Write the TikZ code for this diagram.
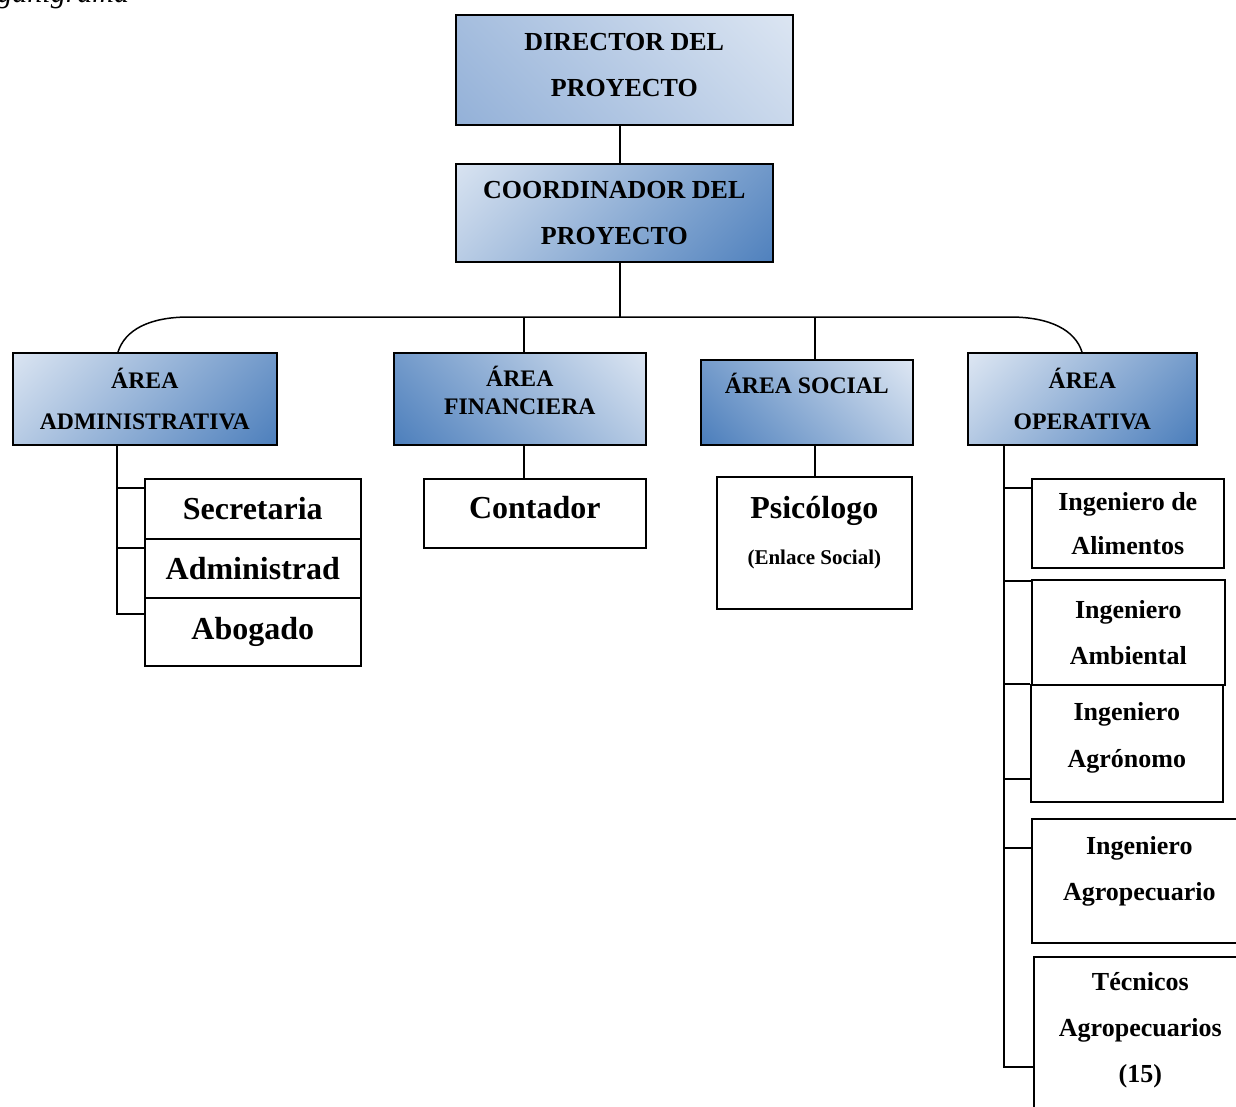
\documentclass[tikz,border=0pt]{standalone}
\usepackage{fontspec}
\setmainfont{Liberation Serif}
\usepackage{tikz}
\usetikzlibrary{positioning,calc}
\definecolor{boxLight}{RGB}{222,231,243}
\definecolor{boxMid}{RGB}{145,175,215}
\definecolor{boxDark}{RGB}{74,125,187}
\tikzstyle{orgChart} = [x = 1pt, y = -1pt]
\tikzstyle{orgLine} = [color=black, line width=1.5pt]
\tikzstyle{orgBox} = [draw=black, line width=1.6pt, anchor=north west, align=center, inner sep=0pt]
\newcommand{\diagShade}[3]{\shade [top color=#1, bottom color=#2, shading angle=#3] let \p1=(path picture bounding box.south west), \p2=(path picture bounding box.north east), \n1={max(\x2-\x1,\y2-\y1)/2} in ($(path picture bounding box.center)+({-\n1},{-\n1})$) rectangle ($(path picture bounding box.center)+({\n1},{\n1})$);}
\tikzstyle{shadeDown} = [orgBox, path picture={\diagShade{boxLight}{boxDark}{45}}]
\tikzstyle{shadeUp} = [orgBox, path picture={\diagShade{boxLight}{boxDark}{-45}}]
\tikzstyle{shadeSoft} = [orgBox, path picture={\diagShade{boxLight}{boxMid}{-45}}]
\tikzstyle{staffBox} = [orgBox, fill=white]
\newcommand{\boxFont}[2]{\bfseries\fontsize{#1}{#2}\selectfont}
\newcommand{\adminBranch}[2]{\draw [orgLine] (adminTrunk) |- ([yshift=-#2pt]#1.north west);}
\newcommand{\opBranch}[2]{\draw [orgLine] (opTrunk) |- ([yshift=-#2pt]#1.north west);}

\begin{document}
\begin{tikzpicture}[orgChart]
\useasboundingbox (0,0) rectangle (1236,1107);
\node [anchor=base west, inner sep=0pt, font=\itshape\fontsize{30}{30}\selectfont] (figTitle) at (-35,3) {Organigrama};
\node [shadeSoft, minimum width=337pt, minimum height=110pt, text depth=10pt, font=\boxFont{26}{46}] (director) at (455,14) {DIRECTOR DEL\\PROYECTO};
\node [shadeDown, minimum width=317pt, minimum height=98pt, font=\boxFont{26}{46}] (coordinator) at (455,163) {COORDINADOR DEL\\PROYECTO};
\node [shadeDown, minimum width=264pt, minimum height=92pt, font=\boxFont{23.7}{41}] (admin) at (12,352) {ÁREA\\ADMINISTRATIVA};
\node [shadeUp, minimum width=252pt, minimum height=92pt, text depth=16pt, font=\boxFont{23.7}{28}] (financiera) at (393,352) {ÁREA\\FINANCIERA};
\node [shadeUp, minimum width=212pt, minimum height=85pt, text height=17pt, text depth=34pt, font=\boxFont{23.7}{28}] (social) at (700,359) {ÁREA SOCIAL};
\node [shadeDown, minimum width=229pt, minimum height=92pt, font=\boxFont{23.7}{41}] (operativa) at (967,352) {ÁREA\\OPERATIVA};

\node [staffBox, minimum width=216pt, minimum height=60pt, font=\boxFont{32}{40}] (secretaria) at (144,478) {Secretaria};
\node [staffBox, minimum width=216pt, minimum height=59pt, font=\boxFont{32}{40}] (administrad) at (144,538) {Administrad};
\node [staffBox, minimum width=216pt, minimum height=68pt, font=\boxFont{32}{40}] (abogado) at (144,597) {Abogado};
\node [staffBox, minimum width=222pt, minimum height=69pt, text depth=12pt, font=\boxFont{32}{40}] (contador) at (423,478) {Contador};
\node [staffBox, minimum width=195pt, minimum height=132pt, text depth=25pt, font=\boxFont{32}{46}] (psicologo) at (716,476) {Psicólogo\\{\boxFont{21}{46}(Enlace Social)}};

\node [staffBox, minimum width=192pt, minimum height=89pt, font=\boxFont{26}{44}] (alimentos) at (1031,478) {Ingeniero de\\Alimentos};
\node [staffBox, minimum width=193pt, minimum height=105pt, font=\boxFont{26}{46}] (ambiental) at (1031,579) {Ingeniero\\Ambiental};
\node [staffBox, minimum width=192pt, minimum height=117pt, text depth=16pt, font=\boxFont{26}{47}] (agronomo) at (1030,684) {Ingeniero\\Agrónomo};
\node [staffBox, minimum width=215pt, minimum height=124pt, text depth=24pt, font=\boxFont{26}{46}] (agropecuario) at (1031,818) {Ingeniero\\Agropecuario};
\node [staffBox, minimum width=213pt, minimum height=170pt, text depth=28pt, font=\boxFont{26}{46}] (tecnicos) at (1033,956) {Técnicos\\Agropecuarios\\(15)};

\coordinate (busTop) at (620,317);
\coordinate (busLeft) at (189,317);
\coordinate (busRight) at (1010,317);
\coordinate (finAxis) at ([xshift=4pt]financiera.north);
\coordinate (socialAxis) at ([xshift=8pt]social.north);
\coordinate (adminTrunk) at ([xshift=105pt]admin.south west);
\coordinate (opTrunk) at ([xshift=37pt]operativa.south west);

\draw [orgLine] (busTop |- director.south) -- (busTop |- coordinator.north);
\draw [orgLine] (busTop |- coordinator.south) -- (busTop);
\draw [orgLine] ([xshift=106pt]admin.north west) .. controls +(7pt,22pt) and +(-40pt,0pt) .. (busLeft) -- (busRight) .. controls +(40pt,0pt) and +(-7pt,22pt) .. ([xshift=115pt]operativa.north west);
\draw [orgLine] (finAxis) -- (finAxis |- busTop);
\draw [orgLine] (socialAxis) -- (socialAxis |- busTop);
\draw [orgLine] (finAxis |- financiera.south) -- (finAxis |- contador.north);
\draw [orgLine] (socialAxis |- social.south) -- (socialAxis |- psicologo.north);

\adminBranch{secretaria}{10}
\adminBranch{administrad}{10}
\adminBranch{abogado}{17}

\opBranch{alimentos}{10}
\opBranch{ambiental}{2}
\opBranch{agronomo}{0}
\opBranch{agronomo}{95}
\opBranch{agropecuario}{30}
\opBranch{tecnicos}{111}
\end{tikzpicture}
\end{document}
